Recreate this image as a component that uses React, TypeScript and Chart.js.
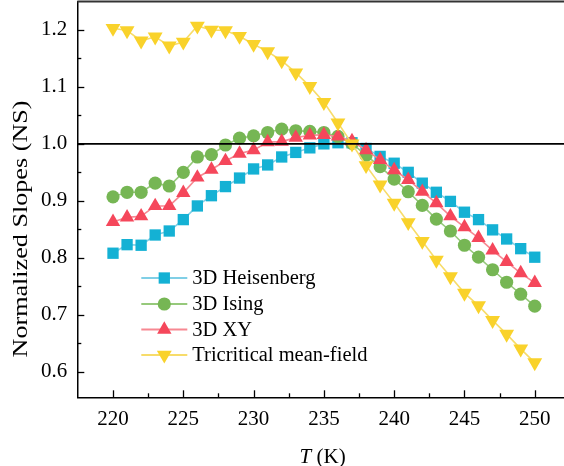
import { useEffect, useRef } from 'react';
import { Chart, registerables } from 'chart.js';
import { drawPoint } from 'chart.js/helpers';

Chart.register(...registerables);

const temperatures = [
  220, 221, 222, 223, 224, 225, 226, 227, 228, 229, 230, 231, 232, 233, 234, 235,
  236, 237, 238, 239, 240, 241, 242, 243, 244, 245, 246, 247, 248, 249, 250,
];

const heisenberg = [
  0.808, 0.823, 0.822, 0.840, 0.847, 0.867, 0.891, 0.909, 0.925, 0.940, 0.956, 0.963, 0.977, 0.985, 0.993, 1.000,
  1.002, 1.002, 0.992, 0.978, 0.966, 0.950, 0.931, 0.915, 0.899, 0.880, 0.867, 0.849, 0.833, 0.816, 0.801,
];

const ising = [
  0.907, 0.915, 0.915, 0.931, 0.926, 0.950, 0.977, 0.981, 0.998, 1.010, 1.014, 1.020, 1.026, 1.023, 1.022, 1.020,
  1.013, 1.001, 0.980, 0.960, 0.938, 0.916, 0.892, 0.868, 0.847, 0.822, 0.801, 0.779, 0.757, 0.736, 0.715,
];

const xy = [
  0.863, 0.871, 0.873, 0.891, 0.891, 0.914, 0.941, 0.955, 0.970, 0.983, 0.989, 1.003, 1.004, 1.011, 1.015, 1.016,
  1.013, 1.005, 0.989, 0.972, 0.954, 0.937, 0.916, 0.896, 0.873, 0.854, 0.835, 0.813, 0.793, 0.773, 0.756,
];

const tricritical = [
  1.203, 1.199, 1.181, 1.188, 1.172, 1.179, 1.207, 1.200, 1.199, 1.189, 1.175, 1.162, 1.146, 1.125, 1.101, 1.073,
  1.037, 1.000, 0.962, 0.928, 0.896, 0.862, 0.829, 0.796, 0.767, 0.738, 0.716, 0.690, 0.666, 0.640, 0.616,
];

const seriesNames = ['3D Heisenberg', '3D Ising', '3D XY', 'Tricritical mean-field'];
const xTickValues = [220, 225, 230, 235, 240, 245, 250];
const yTickValues = [0.6, 0.7, 0.8, 0.9, 1.0, 1.1, 1.2];
const referenceLevel = 1.0;
const xTitleItalic = 'T';
const xTitleRest = ' (K)';
const yTitle = 'Normalized Slopes (NS)';

const FONT = "'Liberation Serif', 'Times New Roman', serif";

type Style = { marker: string; line: string; pointStyle: string; radius: number; rotation: number };
const styles: Style[] = [
  { marker: '#14b1d4', line: '#80cfe6', pointStyle: 'rect', radius: 8, rotation: 0 },
  { marker: '#76b654', line: '#96c97b', pointStyle: 'circle', radius: 6.6, rotation: 0 },
  { marker: '#f5475b', line: '#f78892', pointStyle: 'triangle', radius: 8.3, rotation: 0 },
  { marker: '#f9d22b', line: '#f7dc6a', pointStyle: 'triangle', radius: 8.6, rotation: 180 },
];

const seriesValues = [heisenberg, ising, xy, tricritical];
const drawOrder = [3, 2, 1, 0];

Chart.defaults.font.family = FONT;

const decorPlugin = {
  id: 'decor',
  afterDatasetsDraw(chart: any) {
    const { ctx, chartArea: a, scales } = chart;
    const yr = scales.y.getPixelForValue(referenceLevel);
    ctx.save();
    ctx.strokeStyle = '#000';
    ctx.lineWidth = 1.6;
    ctx.beginPath();
    ctx.moveTo(a.left, yr);
    ctx.lineTo(a.right, yr);
    ctx.stroke();
    ctx.restore();
  },
  afterDraw(chart: any) {
    const { ctx, chartArea: a, scales } = chart;
    const xs = scales.x;
    const ys = scales.y;
    ctx.save();
    ctx.strokeStyle = '#000';
    ctx.lineWidth = 1.3;
    const drawXTick = (v: number, len: number) => {
      const px = Math.round(xs.getPixelForValue(v)) + 0.5;
      if (px < a.left + 3 || px > a.right - 1) return;
      ctx.beginPath();
      ctx.moveTo(px, a.bottom);
      ctx.lineTo(px, a.bottom - len);
      ctx.stroke();
    };
    for (let i = 0; i < xTickValues.length; i++) {
      drawXTick(xTickValues[i], 7);
      const step = i > 0 ? xTickValues[i] - xTickValues[i - 1] : xTickValues[1] - xTickValues[0];
      drawXTick(xTickValues[i] - step / 2, 4);
      if (i === xTickValues.length - 1) drawXTick(xTickValues[i] + step / 2, 4);
    }
    const drawYTick = (v: number, len: number) => {
      const py = Math.round(ys.getPixelForValue(v)) + 0.5;
      if (py > a.bottom - 3 || py < a.top + 3) return;
      ctx.beginPath();
      ctx.moveTo(a.left, py);
      ctx.lineTo(a.left + len, py);
      ctx.stroke();
    };
    for (let i = 0; i < yTickValues.length; i++) {
      drawYTick(yTickValues[i], 7);
      const step = i > 0 ? yTickValues[i] - yTickValues[i - 1] : yTickValues[1] - yTickValues[0];
      drawYTick(yTickValues[i] - step / 2, 4);
      if (i === yTickValues.length - 1) drawYTick(yTickValues[i] + step / 2, 4);
    }
    // top frame line
    ctx.strokeStyle = '#333';
    ctx.lineWidth = 2;
    ctx.beginPath();
    ctx.moveTo(a.left, a.top);
    ctx.lineTo(a.right, a.top);
    ctx.stroke();

    // x title
    ctx.fillStyle = '#000';
    ctx.textBaseline = 'alphabetic';
    ctx.font = `italic 21px ${FONT}`;
    const w1 = ctx.measureText(xTitleItalic).width;
    ctx.font = `21px ${FONT}`;
    const w2 = ctx.measureText(xTitleRest).width;
    const cx = (a.left + a.right) / 2 + 2;
    const sx = cx - (w1 + w2) / 2;
    ctx.font = `italic 21px ${FONT}`;
    ctx.fillText(xTitleItalic, sx, 463);
    ctx.font = `21px ${FONT}`;
    ctx.fillText(xTitleRest, sx + w1, 463);

    // y title (stretched along its length to match the reference extent)
    ctx.save();
    ctx.translate(27, 229);
    ctx.rotate(-Math.PI / 2);
    ctx.font = `21px ${FONT}`;
    const tw = ctx.measureText(yTitle).width;
    ctx.scale(257 / tw, 1);
    ctx.textAlign = 'center';
    ctx.textBaseline = 'alphabetic';
    ctx.fillText(yTitle, 0, 0);
    ctx.restore();

    // legend
    const lx0 = a.left + 64;
    const lx1 = a.left + 110;
    const rows = [278, 304, 329.5, 355];
    for (let i = 0; i < seriesNames.length; i++) {
      const st = styles[i];
      const ry = rows[i];
      ctx.strokeStyle = st.line;
      ctx.lineWidth = 2;
      ctx.beginPath();
      ctx.moveTo(lx0, ry);
      ctx.lineTo(lx1, ry);
      ctx.stroke();
      ctx.fillStyle = st.marker;
      ctx.strokeStyle = st.marker;
      drawPoint(ctx, { pointStyle: st.pointStyle as any, radius: st.radius, rotation: st.rotation, borderWidth: 0 }, (lx0 + lx1) / 2, ry);
      ctx.fillStyle = '#000';
      ctx.font = `20.5px ${FONT}`;
      ctx.textAlign = 'left';
      ctx.textBaseline = 'middle';
      ctx.fillText(seriesNames[i], lx1 + 5, ry + 1);
    }
    ctx.restore();
  },
};

export default function App() {
  const canvasRef = useRef<HTMLCanvasElement | null>(null);

  useEffect(() => {
    const canvas = canvasRef.current;
    if (!canvas) return;
    const datasets = seriesValues.map((vals, i) => ({
      label: seriesNames[i],
      data: temperatures.map((t, j) => ({ x: t, y: vals[j] })),
      borderColor: styles[i].line,
      backgroundColor: styles[i].marker,
      borderWidth: 1.6,
      pointStyle: styles[i].pointStyle,
      pointRadius: styles[i].radius,
      pointRotation: styles[i].rotation,
      pointBackgroundColor: styles[i].marker,
      pointBorderColor: styles[i].marker,
      pointBorderWidth: 0,
      pointHoverRadius: styles[i].radius,
      order: drawOrder.indexOf(i),
      tension: 0,
      clip: false as any,
    }));

    const zeroPad = (scale: any) => {
      scale.paddingTop = 0;
      scale.paddingBottom = 0;
      scale.paddingLeft = 0;
      scale.paddingRight = 0;
    };

    const chart = new Chart(canvas, {
      type: 'line',
      data: { datasets: datasets as any },
      plugins: [decorPlugin],
      options: {
        animation: false,
        responsive: false,
        maintainAspectRatio: false,
        layout: { autoPadding: false, padding: { top: 1.5, right: 0, left: 0, bottom: 0 } },
        plugins: { legend: { display: false }, tooltip: { enabled: false } },
        scales: {
          x: {
            type: 'linear',
            min: 217.46,
            max: 252.08,
            afterBuildTicks: (scale: any) => {
              scale.ticks = xTickValues.map((v) => ({ value: v }));
            },
            afterFit: (scale: any) => {
              scale.height = 68.7;
              zeroPad(scale);
            },
            grid: { display: false, drawTicks: false },
            border: { display: true, color: '#000', width: 1.5 },
            ticks: {
              color: '#000',
              font: { family: FONT, size: 21 },
              padding: 10,
              maxRotation: 0,
              autoSkip: false,
              callback: (v: any) => String(v),
            },
          },
          y: {
            type: 'linear',
            min: 0.555,
            max: 1.25,
            afterBuildTicks: (scale: any) => {
              scale.ticks = yTickValues.map((v) => ({ value: v }));
            },
            afterFit: (scale: any) => {
              scale.width = 77.3;
              zeroPad(scale);
            },
            grid: { display: false, drawTicks: false },
            border: { display: true, color: '#000', width: 1.5 },
            ticks: {
              color: '#000',
              font: { family: FONT, size: 21 },
              padding: 10,
              autoSkip: false,
              callback: (v: any) => Number(v).toFixed(1),
            },
          },
        },
      },
    });
    return () => chart.destroy();
  }, []);

  return (
    <div style={{ position: 'absolute', left: 0, top: 0, width: 564, height: 466, background: '#fff' }}>
      <canvas ref={canvasRef} width={564} height={466} style={{ display: 'block', width: 564, height: 466 }} />
    </div>
  );
}
